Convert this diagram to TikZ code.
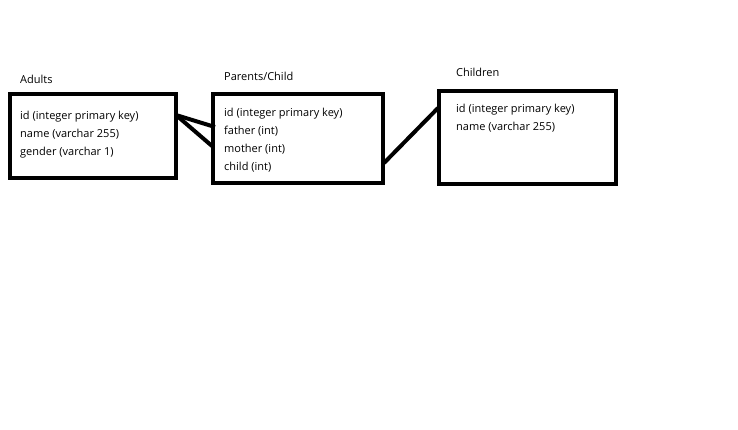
\documentclass[tikz,border=0pt]{standalone}
\usepackage{fontspec}
\setmainfont{Open Sans}
\begin{document}
\begin{tikzpicture}[x=1pt,y=-1pt,
  tbl/.style={draw=black,line width=4pt,fill=none,inner sep=0pt},
  lbl/.style={anchor=base west,inner sep=0pt,font=\fontsize{11}{18}\selectfont},
  rows/.style={anchor=north west,inner sep=0pt,align=left,font=\fontsize{11}{18}\selectfont},
  link/.style={line width=4pt}]
\useasboundingbox[fill=white] (0,0) rectangle (738,429);
% boxes
\draw[tbl] (10,94) rectangle (176,178);
\draw[tbl] (213,94) rectangle (383,183);
\draw[tbl] (439,91) rectangle (616,184);
% titles
\node[lbl] (tadults) at (20,83) {Adults};
\node[lbl] (tpc) at (224,80) {Parents/Child};
\node[lbl] (tchildren) at (456,76) {Children};
% rows
\node[rows] (radults) at (20,111) {id (integer primary key)\\name (varchar 255)\\gender (varchar 1)};
\node[rows] (rpc) at (224,108) {id (integer primary key)\\father (int)\\mother (int)\\child (int)};
\node[rows] (rchildren) at (456,104) {id (integer primary key)\\name (varchar 255)};
% connector endpoints
\coordinate (a1) at (176,115);
\coordinate (p1) at (215,127);
\coordinate (p2) at (212,146);
\coordinate (p3) at (384,163);
\coordinate (c1) at (438,108);
\draw[link] (a1) -- (p1);
\draw[link] (a1) -- (p2);
\draw[link] (p3) -- (c1);
\end{tikzpicture}
\end{document}
